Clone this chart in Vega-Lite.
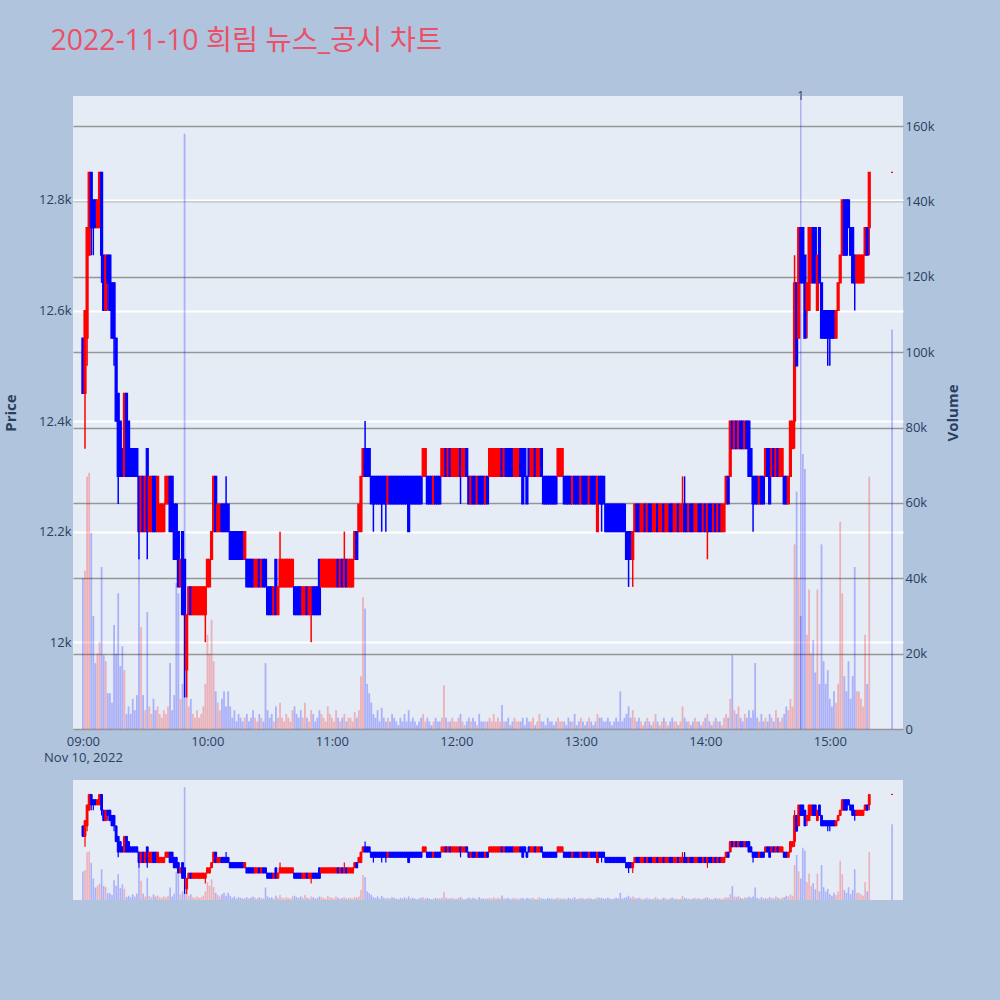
{
"$schema":"https://vega.github.io/schema/vega-lite/v6.json",
"background":"#B0C4DE",
"padding":{"left":3,"top":26,"right":39,"bottom":130},
"title":{"text":"2022-11-10 희림 뉴스_공시 차트","anchor":"start","fontSize":28.4,"fontWeight":"normal","color":"#EB5068","font":"Open Sans, Noto Sans CJK KR","offset":34,"dx":47},
"config":{"view":{"fill":"#E5ECF6","stroke":null},"axis":{"labelFont":"Open Sans","titleFont":"Open Sans","labelColor":"#2a3f5f","titleColor":"#2a3f5f","labelFontSize":13,"titleFontSize":15,"titleFontWeight":"bold","domain":false,"ticks":false}},
"spacing":16,
"datasets":{"k":[
{"m":0,"o":12550,"h":12550,"l":12450,"c":12450,"v":40000},
{"m":1,"o":12450,"h":12600,"l":12350,"c":12600,"v":42000},
{"m":2,"o":12550,"h":12750,"l":12500,"c":12750,"v":67000},
{"m":3,"o":12700,"h":12850,"l":12700,"c":12850,"v":68000},
{"m":4,"o":12850,"h":12850,"l":12700,"c":12750,"v":52000},
{"m":5,"o":12800,"h":12800,"l":12700,"c":12750,"v":30000},
{"m":6,"o":12800,"h":12800,"l":12750,"c":12750,"v":17500},
{"m":7,"o":12750,"h":12800,"l":12750,"c":12800,"v":20000},
{"m":8,"o":12750,"h":12850,"l":12750,"c":12850,"v":23000},
{"m":9,"o":12850,"h":12850,"l":12650,"c":12700,"v":43000},
{"m":10,"o":12700,"h":12700,"l":12600,"c":12600,"v":19600},
{"m":11,"o":12600,"h":12700,"l":12600,"c":12700,"v":18000},
{"m":12,"o":12700,"h":12700,"l":12600,"c":12650,"v":9500},
{"m":13,"o":12700,"h":12700,"l":12600,"c":12600,"v":9500},
{"m":14,"o":12650,"h":12650,"l":12550,"c":12550,"v":7000},
{"m":15,"o":12650,"h":12650,"l":12500,"c":12550,"v":27600},
{"m":16,"o":12550,"h":12550,"l":12400,"c":12400,"v":20000},
{"m":17,"o":12450,"h":12450,"l":12250,"c":12300,"v":36000},
{"m":18,"o":12400,"h":12400,"l":12300,"c":12300,"v":16700},
{"m":19,"o":12350,"h":12350,"l":12300,"c":12300,"v":22000},
{"m":20,"o":12300,"h":12450,"l":12300,"c":12450,"v":15600},
{"m":21,"o":12450,"h":12450,"l":12300,"c":12300,"v":4000},
{"m":22,"o":12400,"h":12400,"l":12300,"c":12300,"v":6000},
{"m":23,"o":12350,"h":12350,"l":12300,"c":12300,"v":4000},
{"m":24,"o":12350,"h":12350,"l":12300,"c":12300,"v":8000},
{"m":25,"o":12350,"h":12350,"l":12300,"c":12300,"v":5000},
{"m":26,"o":12350,"h":12350,"l":12300,"c":12300,"v":9000},
{"m":27,"o":12300,"h":12300,"l":12150,"c":12200,"v":45600},
{"m":28,"o":12200,"h":12300,"l":12200,"c":12300,"v":27000},
{"m":29,"o":12300,"h":12300,"l":12200,"c":12200,"v":9000},
{"m":30,"o":12200,"h":12300,"l":12200,"c":12300,"v":5000},
{"m":31,"o":12350,"h":12350,"l":12150,"c":12200,"v":31000},
{"m":32,"o":12200,"h":12300,"l":12200,"c":12300,"v":6000},
{"m":33,"o":12200,"h":12300,"l":12200,"c":12300,"v":4000},
{"m":34,"o":12300,"h":12300,"l":12200,"c":12200,"v":8000},
{"m":35,"o":12300,"h":12300,"l":12200,"c":12200,"v":5000},
{"m":36,"o":12200,"h":12300,"l":12200,"c":12300,"v":6000},
{"m":37,"o":12200,"h":12250,"l":12200,"c":12250,"v":4000},
{"m":38,"o":12200,"h":12250,"l":12200,"c":12250,"v":3000},
{"m":39,"o":12200,"h":12250,"l":12200,"c":12250,"v":5000},
{"m":40,"o":12250,"h":12300,"l":12250,"c":12300,"v":4000},
{"m":41,"o":12250,"h":12300,"l":12250,"c":12300,"v":6000},
{"m":42,"o":12300,"h":12300,"l":12200,"c":12200,"v":17500},
{"m":43,"o":12300,"h":12300,"l":12200,"c":12200,"v":5000},
{"m":44,"o":12250,"h":12250,"l":12150,"c":12150,"v":9000},
{"m":45,"o":12250,"h":12250,"l":12150,"c":12150,"v":38700},
{"m":46,"o":12200,"h":12200,"l":12100,"c":12100,"v":36000},
{"m":47,"o":12100,"h":12150,"l":12100,"c":12150,"v":8000},
{"m":48,"o":12200,"h":12200,"l":12050,"c":12050,"v":12000},
{"m":49,"o":12150,"h":12150,"l":11900,"c":12050,"v":158000},
{"m":50,"o":11950,"h":12050,"l":11900,"c":12050,"v":15600},
{"m":51,"o":12050,"h":12100,"l":12050,"c":12100,"v":6000},
{"m":52,"o":12100,"h":12100,"l":12050,"c":12050,"v":8000},
{"m":53,"o":12050,"h":12100,"l":12050,"c":12100,"v":4000},
{"m":54,"o":12050,"h":12100,"l":12050,"c":12100,"v":3000},
{"m":55,"o":12050,"h":12100,"l":12050,"c":12100,"v":5000},
{"m":56,"o":12050,"h":12100,"l":12050,"c":12100,"v":3000},
{"m":57,"o":12050,"h":12100,"l":12050,"c":12100,"v":4000},
{"m":58,"o":12050,"h":12100,"l":12050,"c":12100,"v":6000},
{"m":59,"o":12050,"h":12100,"l":12000,"c":12100,"v":12000},
{"m":60,"o":12100,"h":12150,"l":12100,"c":12150,"v":25000},
{"m":61,"o":12100,"h":12150,"l":12100,"c":12150,"v":20000},
{"m":62,"o":12150,"h":12200,"l":12150,"c":12200,"v":29000},
{"m":63,"o":12200,"h":12300,"l":12200,"c":12300,"v":18000},
{"m":64,"o":12300,"h":12300,"l":12200,"c":12200,"v":10000},
{"m":65,"o":12200,"h":12250,"l":12200,"c":12250,"v":7000},
{"m":66,"o":12200,"h":12250,"l":12200,"c":12250,"v":5000},
{"m":67,"o":12250,"h":12250,"l":12200,"c":12200,"v":8000},
{"m":68,"o":12250,"h":12250,"l":12200,"c":12200,"v":10000},
{"m":69,"o":12250,"h":12300,"l":12200,"c":12200,"v":6000},
{"m":70,"o":12250,"h":12250,"l":12200,"c":12200,"v":10000},
{"m":71,"o":12200,"h":12200,"l":12150,"c":12150,"v":6000},
{"m":72,"o":12200,"h":12200,"l":12150,"c":12150,"v":3000},
{"m":73,"o":12200,"h":12200,"l":12150,"c":12150,"v":5000},
{"m":74,"o":12200,"h":12200,"l":12150,"c":12150,"v":2000},
{"m":75,"o":12200,"h":12200,"l":12150,"c":12150,"v":4000},
{"m":76,"o":12200,"h":12200,"l":12150,"c":12150,"v":3000},
{"m":77,"o":12200,"h":12200,"l":12150,"c":12150,"v":2000},
{"m":78,"o":12150,"h":12200,"l":12150,"c":12200,"v":3000},
{"m":79,"o":12150,"h":12150,"l":12100,"c":12100,"v":4000},
{"m":80,"o":12150,"h":12150,"l":12100,"c":12100,"v":2000},
{"m":81,"o":12150,"h":12150,"l":12100,"c":12100,"v":3000},
{"m":82,"o":12150,"h":12150,"l":12100,"c":12100,"v":5000},
{"m":83,"o":12100,"h":12150,"l":12100,"c":12150,"v":3000},
{"m":84,"o":12100,"h":12150,"l":12100,"c":12150,"v":2000},
{"m":85,"o":12150,"h":12150,"l":12100,"c":12100,"v":4000},
{"m":86,"o":12100,"h":12150,"l":12100,"c":12150,"v":3000},
{"m":87,"o":12150,"h":12150,"l":12100,"c":12100,"v":2000},
{"m":88,"o":12150,"h":12150,"l":12100,"c":12100,"v":17500},
{"m":89,"o":12100,"h":12100,"l":12050,"c":12050,"v":5000},
{"m":90,"o":12100,"h":12100,"l":12050,"c":12050,"v":3000},
{"m":91,"o":12100,"h":12100,"l":12050,"c":12050,"v":4000},
{"m":92,"o":12050,"h":12100,"l":12050,"c":12100,"v":2000},
{"m":93,"o":12150,"h":12150,"l":12050,"c":12050,"v":6000},
{"m":94,"o":12050,"h":12100,"l":12050,"c":12100,"v":3000},
{"m":95,"o":12100,"h":12200,"l":12100,"c":12150,"v":7000},
{"m":96,"o":12100,"h":12150,"l":12100,"c":12150,"v":3000},
{"m":97,"o":12100,"h":12150,"l":12100,"c":12150,"v":2000},
{"m":98,"o":12100,"h":12150,"l":12100,"c":12150,"v":4000},
{"m":99,"o":12100,"h":12150,"l":12100,"c":12150,"v":3000},
{"m":100,"o":12100,"h":12150,"l":12100,"c":12150,"v":2000},
{"m":101,"o":12100,"h":12150,"l":12100,"c":12150,"v":5000},
{"m":102,"o":12100,"h":12100,"l":12050,"c":12050,"v":6000},
{"m":103,"o":12100,"h":12100,"l":12050,"c":12050,"v":4000},
{"m":104,"o":12100,"h":12100,"l":12050,"c":12050,"v":3000},
{"m":105,"o":12100,"h":12100,"l":12050,"c":12050,"v":5000},
{"m":106,"o":12050,"h":12100,"l":12050,"c":12100,"v":3000},
{"m":107,"o":12050,"h":12100,"l":12050,"c":12100,"v":7000},
{"m":108,"o":12100,"h":12100,"l":12050,"c":12050,"v":3000},
{"m":109,"o":12050,"h":12100,"l":12050,"c":12100,"v":2000},
{"m":110,"o":12050,"h":12100,"l":12000,"c":12100,"v":5000},
{"m":111,"o":12100,"h":12100,"l":12050,"c":12050,"v":4000},
{"m":112,"o":12100,"h":12100,"l":12050,"c":12050,"v":2000},
{"m":113,"o":12100,"h":12100,"l":12050,"c":12050,"v":3000},
{"m":114,"o":12150,"h":12150,"l":12050,"c":12050,"v":5000},
{"m":115,"o":12100,"h":12150,"l":12100,"c":12150,"v":4000},
{"m":116,"o":12100,"h":12150,"l":12100,"c":12150,"v":3000},
{"m":117,"o":12100,"h":12150,"l":12100,"c":12150,"v":2000},
{"m":118,"o":12100,"h":12150,"l":12100,"c":12150,"v":6000},
{"m":119,"o":12100,"h":12150,"l":12100,"c":12150,"v":4000},
{"m":120,"o":12100,"h":12150,"l":12100,"c":12150,"v":3000},
{"m":121,"o":12100,"h":12150,"l":12100,"c":12150,"v":2000},
{"m":122,"o":12100,"h":12150,"l":12100,"c":12150,"v":5000},
{"m":123,"o":12150,"h":12150,"l":12100,"c":12100,"v":3000},
{"m":124,"o":12100,"h":12150,"l":12100,"c":12150,"v":2000},
{"m":125,"o":12150,"h":12150,"l":12100,"c":12100,"v":3000},
{"m":126,"o":12100,"h":12200,"l":12100,"c":12150,"v":4000},
{"m":127,"o":12150,"h":12150,"l":12100,"c":12100,"v":2000},
{"m":128,"o":12100,"h":12150,"l":12100,"c":12150,"v":3000},
{"m":129,"o":12100,"h":12150,"l":12100,"c":12150,"v":3000},
{"m":130,"o":12100,"h":12150,"l":12100,"c":12150,"v":2000},
{"m":131,"o":12150,"h":12200,"l":12150,"c":12200,"v":4500},
{"m":132,"o":12200,"h":12200,"l":12150,"c":12150,"v":3000},
{"m":133,"o":12200,"h":12250,"l":12200,"c":12250,"v":5000},
{"m":134,"o":12200,"h":12300,"l":12200,"c":12300,"v":14000},
{"m":135,"o":12300,"h":12350,"l":12300,"c":12350,"v":35000},
{"m":136,"o":12350,"h":12400,"l":12300,"c":12300,"v":32000},
{"m":137,"o":12350,"h":12350,"l":12300,"c":12300,"v":12000},
{"m":138,"o":12350,"h":12350,"l":12300,"c":12300,"v":9500},
{"m":139,"o":12300,"h":12300,"l":12250,"c":12250,"v":7000},
{"m":140,"o":12300,"h":12300,"l":12200,"c":12250,"v":4000},
{"m":141,"o":12300,"h":12300,"l":12250,"c":12250,"v":3000},
{"m":142,"o":12300,"h":12300,"l":12250,"c":12250,"v":5000},
{"m":143,"o":12300,"h":12300,"l":12250,"c":12250,"v":2000},
{"m":144,"o":12300,"h":12300,"l":12200,"c":12250,"v":5600},
{"m":145,"o":12300,"h":12300,"l":12250,"c":12250,"v":3000},
{"m":146,"o":12300,"h":12300,"l":12200,"c":12250,"v":2000},
{"m":147,"o":12250,"h":12300,"l":12250,"c":12300,"v":3000},
{"m":148,"o":12300,"h":12300,"l":12250,"c":12250,"v":2000},
{"m":149,"o":12300,"h":12300,"l":12250,"c":12250,"v":4000},
{"m":150,"o":12300,"h":12300,"l":12250,"c":12250,"v":3000},
{"m":151,"o":12300,"h":12300,"l":12250,"c":12250,"v":2000},
{"m":152,"o":12300,"h":12300,"l":12250,"c":12250,"v":1000},
{"m":153,"o":12300,"h":12300,"l":12250,"c":12250,"v":3000},
{"m":154,"o":12300,"h":12300,"l":12250,"c":12250,"v":2000},
{"m":155,"o":12300,"h":12300,"l":12250,"c":12250,"v":4000},
{"m":156,"o":12300,"h":12300,"l":12250,"c":12250,"v":2000},
{"m":157,"o":12300,"h":12300,"l":12200,"c":12200,"v":5000},
{"m":158,"o":12300,"h":12300,"l":12250,"c":12250,"v":2000},
{"m":159,"o":12300,"h":12300,"l":12250,"c":12250,"v":3000},
{"m":160,"o":12300,"h":12300,"l":12250,"c":12250,"v":2000},
{"m":161,"o":12300,"h":12300,"l":12250,"c":12250,"v":1000},
{"m":162,"o":12300,"h":12300,"l":12250,"c":12250,"v":2000},
{"m":163,"o":12300,"h":12300,"l":12250,"c":12250,"v":3000},
{"m":164,"o":12300,"h":12350,"l":12300,"c":12350,"v":4000},
{"m":165,"o":12300,"h":12350,"l":12300,"c":12350,"v":2000},
{"m":166,"o":12300,"h":12300,"l":12250,"c":12250,"v":3000},
{"m":167,"o":12300,"h":12300,"l":12250,"c":12250,"v":2000},
{"m":168,"o":12300,"h":12300,"l":12250,"c":12250,"v":1000},
{"m":169,"o":12250,"h":12300,"l":12250,"c":12300,"v":2000},
{"m":170,"o":12300,"h":12300,"l":12250,"c":12250,"v":3000},
{"m":171,"o":12300,"h":12300,"l":12250,"c":12250,"v":2000},
{"m":172,"o":12300,"h":12300,"l":12250,"c":12250,"v":2000},
{"m":173,"o":12300,"h":12350,"l":12300,"c":12350,"v":3000},
{"m":174,"o":12300,"h":12350,"l":12300,"c":12350,"v":11600},
{"m":175,"o":12350,"h":12350,"l":12300,"c":12300,"v":3000},
{"m":176,"o":12300,"h":12350,"l":12300,"c":12350,"v":2000},
{"m":177,"o":12350,"h":12350,"l":12300,"c":12300,"v":2000},
{"m":178,"o":12300,"h":12350,"l":12300,"c":12350,"v":3000},
{"m":179,"o":12300,"h":12350,"l":12300,"c":12350,"v":2000},
{"m":180,"o":12300,"h":12350,"l":12300,"c":12350,"v":2000},
{"m":181,"o":12300,"h":12350,"l":12300,"c":12350,"v":3000},
{"m":182,"o":12350,"h":12350,"l":12250,"c":12300,"v":4000},
{"m":183,"o":12300,"h":12350,"l":12300,"c":12350,"v":2000},
{"m":184,"o":12300,"h":12350,"l":12300,"c":12350,"v":1000},
{"m":185,"o":12350,"h":12350,"l":12300,"c":12300,"v":2000},
{"m":186,"o":12300,"h":12300,"l":12250,"c":12250,"v":3000},
{"m":187,"o":12250,"h":12300,"l":12250,"c":12300,"v":2000},
{"m":188,"o":12300,"h":12300,"l":12250,"c":12250,"v":3000},
{"m":189,"o":12300,"h":12300,"l":12250,"c":12250,"v":2000},
{"m":190,"o":12250,"h":12300,"l":12250,"c":12300,"v":1000},
{"m":191,"o":12300,"h":12300,"l":12250,"c":12250,"v":4000},
{"m":192,"o":12300,"h":12300,"l":12250,"c":12250,"v":2000},
{"m":193,"o":12300,"h":12300,"l":12250,"c":12250,"v":2000},
{"m":194,"o":12250,"h":12300,"l":12250,"c":12300,"v":2000},
{"m":195,"o":12300,"h":12300,"l":12250,"c":12250,"v":2000},
{"m":196,"o":12300,"h":12350,"l":12300,"c":12350,"v":3000},
{"m":197,"o":12300,"h":12350,"l":12300,"c":12350,"v":2000},
{"m":198,"o":12300,"h":12350,"l":12300,"c":12350,"v":4000},
{"m":199,"o":12300,"h":12350,"l":12300,"c":12350,"v":2000},
{"m":200,"o":12300,"h":12350,"l":12300,"c":12350,"v":3000},
{"m":201,"o":12300,"h":12350,"l":12300,"c":12350,"v":2000},
{"m":202,"o":12350,"h":12350,"l":12300,"c":12300,"v":6400},
{"m":203,"o":12300,"h":12350,"l":12300,"c":12350,"v":2000},
{"m":204,"o":12350,"h":12350,"l":12300,"c":12300,"v":2000},
{"m":205,"o":12350,"h":12350,"l":12300,"c":12300,"v":3000},
{"m":206,"o":12350,"h":12350,"l":12300,"c":12300,"v":1000},
{"m":207,"o":12350,"h":12350,"l":12300,"c":12300,"v":2000},
{"m":208,"o":12300,"h":12350,"l":12300,"c":12350,"v":3000},
{"m":209,"o":12300,"h":12350,"l":12300,"c":12350,"v":2000},
{"m":210,"o":12300,"h":12350,"l":12300,"c":12350,"v":2000},
{"m":211,"o":12350,"h":12350,"l":12300,"c":12300,"v":2000},
{"m":212,"o":12350,"h":12350,"l":12250,"c":12250,"v":3000},
{"m":213,"o":12350,"h":12350,"l":12300,"c":12300,"v":1000},
{"m":214,"o":12300,"h":12300,"l":12250,"c":12250,"v":3000},
{"m":215,"o":12350,"h":12350,"l":12300,"c":12300,"v":2000},
{"m":216,"o":12300,"h":12350,"l":12300,"c":12350,"v":2000},
{"m":217,"o":12300,"h":12350,"l":12300,"c":12350,"v":3000},
{"m":218,"o":12350,"h":12350,"l":12300,"c":12300,"v":1000},
{"m":219,"o":12300,"h":12350,"l":12300,"c":12350,"v":2000},
{"m":220,"o":12300,"h":12350,"l":12300,"c":12350,"v":4000},
{"m":221,"o":12350,"h":12350,"l":12300,"c":12300,"v":2000},
{"m":222,"o":12300,"h":12300,"l":12250,"c":12250,"v":2000},
{"m":223,"o":12300,"h":12300,"l":12250,"c":12250,"v":1000},
{"m":224,"o":12300,"h":12300,"l":12250,"c":12250,"v":3000},
{"m":225,"o":12300,"h":12300,"l":12250,"c":12250,"v":2000},
{"m":226,"o":12300,"h":12300,"l":12250,"c":12250,"v":2000},
{"m":227,"o":12300,"h":12300,"l":12250,"c":12250,"v":1000},
{"m":228,"o":12300,"h":12300,"l":12250,"c":12250,"v":2000},
{"m":229,"o":12300,"h":12350,"l":12300,"c":12350,"v":3000},
{"m":230,"o":12300,"h":12350,"l":12300,"c":12350,"v":2000},
{"m":231,"o":12300,"h":12350,"l":12300,"c":12350,"v":2000},
{"m":232,"o":12300,"h":12300,"l":12250,"c":12250,"v":2000},
{"m":233,"o":12300,"h":12300,"l":12250,"c":12250,"v":1000},
{"m":234,"o":12300,"h":12300,"l":12250,"c":12250,"v":3000},
{"m":235,"o":12300,"h":12300,"l":12250,"c":12250,"v":2000},
{"m":236,"o":12250,"h":12300,"l":12250,"c":12300,"v":2000},
{"m":237,"o":12300,"h":12300,"l":12250,"c":12250,"v":4000},
{"m":238,"o":12300,"h":12300,"l":12250,"c":12250,"v":1000},
{"m":239,"o":12300,"h":12300,"l":12250,"c":12250,"v":2000},
{"m":240,"o":12250,"h":12300,"l":12250,"c":12300,"v":3000},
{"m":241,"o":12300,"h":12300,"l":12250,"c":12250,"v":2000},
{"m":242,"o":12300,"h":12300,"l":12250,"c":12250,"v":1000},
{"m":243,"o":12300,"h":12300,"l":12250,"c":12250,"v":2000},
{"m":244,"o":12250,"h":12300,"l":12250,"c":12300,"v":3000},
{"m":245,"o":12300,"h":12300,"l":12250,"c":12250,"v":2000},
{"m":246,"o":12300,"h":12300,"l":12250,"c":12250,"v":1000},
{"m":247,"o":12300,"h":12300,"l":12250,"c":12250,"v":2000},
{"m":248,"o":12200,"h":12300,"l":12200,"c":12300,"v":4000},
{"m":249,"o":12300,"h":12300,"l":12250,"c":12250,"v":3000},
{"m":250,"o":12300,"h":12300,"l":12200,"c":12250,"v":3000},
{"m":251,"o":12300,"h":12300,"l":12250,"c":12250,"v":2000},
{"m":252,"o":12250,"h":12250,"l":12200,"c":12200,"v":2000},
{"m":253,"o":12250,"h":12250,"l":12200,"c":12200,"v":3000},
{"m":254,"o":12250,"h":12250,"l":12200,"c":12200,"v":2000},
{"m":255,"o":12250,"h":12250,"l":12200,"c":12200,"v":1000},
{"m":256,"o":12250,"h":12250,"l":12200,"c":12200,"v":2000},
{"m":257,"o":12250,"h":12250,"l":12200,"c":12200,"v":3000},
{"m":258,"o":12250,"h":12250,"l":12200,"c":12200,"v":2000},
{"m":259,"o":12250,"h":12250,"l":12200,"c":12200,"v":10000},
{"m":260,"o":12250,"h":12250,"l":12200,"c":12200,"v":2000},
{"m":261,"o":12250,"h":12250,"l":12200,"c":12200,"v":3000},
{"m":262,"o":12200,"h":12200,"l":12150,"c":12150,"v":4000},
{"m":263,"o":12200,"h":12200,"l":12100,"c":12150,"v":6000},
{"m":264,"o":12200,"h":12200,"l":12150,"c":12150,"v":3000},
{"m":265,"o":12150,"h":12200,"l":12100,"c":12200,"v":5000},
{"m":266,"o":12200,"h":12250,"l":12200,"c":12250,"v":3000},
{"m":267,"o":12250,"h":12250,"l":12200,"c":12200,"v":2000},
{"m":268,"o":12250,"h":12250,"l":12200,"c":12200,"v":3000},
{"m":269,"o":12200,"h":12250,"l":12200,"c":12250,"v":2000},
{"m":270,"o":12200,"h":12250,"l":12200,"c":12250,"v":1000},
{"m":271,"o":12250,"h":12250,"l":12200,"c":12200,"v":2000},
{"m":272,"o":12200,"h":12250,"l":12200,"c":12250,"v":3000},
{"m":273,"o":12250,"h":12250,"l":12200,"c":12200,"v":2000},
{"m":274,"o":12250,"h":12250,"l":12200,"c":12200,"v":1000},
{"m":275,"o":12200,"h":12250,"l":12200,"c":12250,"v":2000},
{"m":276,"o":12200,"h":12250,"l":12200,"c":12250,"v":4000},
{"m":277,"o":12250,"h":12250,"l":12200,"c":12200,"v":2000},
{"m":278,"o":12200,"h":12250,"l":12200,"c":12250,"v":1000},
{"m":279,"o":12200,"h":12250,"l":12200,"c":12250,"v":2000},
{"m":280,"o":12250,"h":12250,"l":12200,"c":12200,"v":3000},
{"m":281,"o":12200,"h":12250,"l":12200,"c":12250,"v":2000},
{"m":282,"o":12200,"h":12250,"l":12200,"c":12250,"v":1000},
{"m":283,"o":12250,"h":12250,"l":12200,"c":12200,"v":2000},
{"m":284,"o":12250,"h":12250,"l":12200,"c":12200,"v":3000},
{"m":285,"o":12200,"h":12250,"l":12200,"c":12250,"v":2000},
{"m":286,"o":12200,"h":12250,"l":12200,"c":12250,"v":2000},
{"m":287,"o":12250,"h":12250,"l":12200,"c":12200,"v":1000},
{"m":288,"o":12200,"h":12250,"l":12200,"c":12250,"v":2000},
{"m":289,"o":12200,"h":12300,"l":12200,"c":12250,"v":6000},
{"m":290,"o":12250,"h":12300,"l":12200,"c":12200,"v":3000},
{"m":291,"o":12250,"h":12250,"l":12200,"c":12200,"v":2000},
{"m":292,"o":12200,"h":12250,"l":12200,"c":12250,"v":2000},
{"m":293,"o":12250,"h":12250,"l":12200,"c":12200,"v":1000},
{"m":294,"o":12250,"h":12250,"l":12200,"c":12200,"v":2000},
{"m":295,"o":12200,"h":12250,"l":12200,"c":12250,"v":3000},
{"m":296,"o":12200,"h":12250,"l":12200,"c":12250,"v":2000},
{"m":297,"o":12250,"h":12250,"l":12200,"c":12200,"v":2000},
{"m":298,"o":12250,"h":12250,"l":12200,"c":12200,"v":1000},
{"m":299,"o":12200,"h":12250,"l":12200,"c":12250,"v":2000},
{"m":300,"o":12250,"h":12250,"l":12200,"c":12200,"v":3000},
{"m":301,"o":12200,"h":12250,"l":12150,"c":12250,"v":4000},
{"m":302,"o":12250,"h":12250,"l":12200,"c":12200,"v":2000},
{"m":303,"o":12250,"h":12250,"l":12200,"c":12200,"v":1000},
{"m":304,"o":12200,"h":12250,"l":12200,"c":12250,"v":2000},
{"m":305,"o":12250,"h":12250,"l":12200,"c":12200,"v":3000},
{"m":306,"o":12200,"h":12250,"l":12200,"c":12250,"v":2000},
{"m":307,"o":12250,"h":12250,"l":12200,"c":12200,"v":2000},
{"m":308,"o":12200,"h":12250,"l":12200,"c":12250,"v":1000},
{"m":309,"o":12200,"h":12250,"l":12200,"c":12250,"v":3000},
{"m":310,"o":12250,"h":12300,"l":12250,"c":12300,"v":4000},
{"m":311,"o":12300,"h":12300,"l":12250,"c":12250,"v":3000},
{"m":312,"o":12300,"h":12400,"l":12300,"c":12400,"v":8000},
{"m":313,"o":12400,"h":12400,"l":12350,"c":12350,"v":19600},
{"m":314,"o":12350,"h":12400,"l":12350,"c":12400,"v":5000},
{"m":315,"o":12400,"h":12400,"l":12350,"c":12350,"v":4000},
{"m":316,"o":12350,"h":12400,"l":12350,"c":12400,"v":6000},
{"m":317,"o":12400,"h":12400,"l":12350,"c":12350,"v":3000},
{"m":318,"o":12400,"h":12400,"l":12350,"c":12350,"v":2000},
{"m":319,"o":12350,"h":12400,"l":12350,"c":12400,"v":4000},
{"m":320,"o":12400,"h":12400,"l":12350,"c":12350,"v":3000},
{"m":321,"o":12400,"h":12400,"l":12300,"c":12300,"v":5000},
{"m":322,"o":12350,"h":12350,"l":12300,"c":12300,"v":3000},
{"m":323,"o":12300,"h":12300,"l":12200,"c":12250,"v":5000},
{"m":324,"o":12300,"h":12300,"l":12250,"c":12250,"v":17500},
{"m":325,"o":12300,"h":12300,"l":12250,"c":12250,"v":3000},
{"m":326,"o":12250,"h":12300,"l":12250,"c":12300,"v":2000},
{"m":327,"o":12300,"h":12300,"l":12250,"c":12250,"v":4000},
{"m":328,"o":12300,"h":12300,"l":12250,"c":12250,"v":2000},
{"m":329,"o":12300,"h":12350,"l":12300,"c":12350,"v":3000},
{"m":330,"o":12350,"h":12350,"l":12300,"c":12300,"v":2000},
{"m":331,"o":12350,"h":12350,"l":12250,"c":12250,"v":4000},
{"m":332,"o":12300,"h":12350,"l":12300,"c":12350,"v":3000},
{"m":333,"o":12350,"h":12350,"l":12300,"c":12300,"v":2000},
{"m":334,"o":12300,"h":12350,"l":12300,"c":12350,"v":5000},
{"m":335,"o":12350,"h":12350,"l":12300,"c":12300,"v":3000},
{"m":336,"o":12300,"h":12350,"l":12300,"c":12350,"v":2000},
{"m":337,"o":12300,"h":12350,"l":12300,"c":12350,"v":3000},
{"m":338,"o":12300,"h":12300,"l":12250,"c":12250,"v":4000},
{"m":339,"o":12300,"h":12300,"l":12250,"c":12250,"v":6000},
{"m":340,"o":12250,"h":12300,"l":12250,"c":12300,"v":5000},
{"m":341,"o":12300,"h":12400,"l":12300,"c":12400,"v":8000},
{"m":342,"o":12350,"h":12400,"l":12350,"c":12400,"v":6000},
{"m":343,"o":12400,"h":12700,"l":12350,"c":12650,"v":49000},
{"m":344,"o":12650,"h":12650,"l":12500,"c":12500,"v":63000},
{"m":345,"o":12550,"h":12750,"l":12550,"c":12750,"v":40000},
{"m":346,"o":12750,"h":12750,"l":12650,"c":12650,"v":30000},
{"m":347,"o":12750,"h":12750,"l":12650,"c":12650,"v":73000},
{"m":348,"o":12700,"h":12700,"l":12550,"c":12550,"v":69000},
{"m":349,"o":12600,"h":12650,"l":12550,"c":12650,"v":25000},
{"m":350,"o":12600,"h":12750,"l":12600,"c":12750,"v":37000},
{"m":351,"o":12650,"h":12750,"l":12650,"c":12750,"v":20000},
{"m":352,"o":12750,"h":12750,"l":12650,"c":12650,"v":23600},
{"m":353,"o":12750,"h":12750,"l":12650,"c":12650,"v":15000},
{"m":354,"o":12600,"h":12700,"l":12600,"c":12700,"v":37000},
{"m":355,"o":12750,"h":12750,"l":12650,"c":12650,"v":12000},
{"m":356,"o":12650,"h":12650,"l":12550,"c":12550,"v":49000},
{"m":357,"o":12600,"h":12600,"l":12550,"c":12550,"v":18000},
{"m":358,"o":12600,"h":12600,"l":12550,"c":12550,"v":12000},
{"m":359,"o":12600,"h":12600,"l":12500,"c":12550,"v":15600},
{"m":360,"o":12600,"h":12600,"l":12500,"c":12550,"v":8000},
{"m":361,"o":12600,"h":12600,"l":12550,"c":12550,"v":6000},
{"m":362,"o":12600,"h":12600,"l":12550,"c":12550,"v":10000},
{"m":363,"o":12550,"h":12600,"l":12550,"c":12600,"v":7000},
{"m":364,"o":12600,"h":12650,"l":12600,"c":12650,"v":12000},
{"m":365,"o":12650,"h":12700,"l":12650,"c":12700,"v":55000},
{"m":366,"o":12700,"h":12800,"l":12700,"c":12800,"v":36000},
{"m":367,"o":12800,"h":12800,"l":12700,"c":12700,"v":14000},
{"m":368,"o":12800,"h":12800,"l":12700,"c":12700,"v":10000},
{"m":369,"o":12800,"h":12800,"l":12750,"c":12750,"v":18000},
{"m":370,"o":12750,"h":12750,"l":12700,"c":12700,"v":8000},
{"m":371,"o":12750,"h":12750,"l":12650,"c":12650,"v":14000},
{"m":372,"o":12700,"h":12700,"l":12600,"c":12650,"v":43000},
{"m":373,"o":12650,"h":12700,"l":12650,"c":12700,"v":10000},
{"m":374,"o":12650,"h":12700,"l":12650,"c":12700,"v":10000},
{"m":375,"o":12650,"h":12700,"l":12650,"c":12700,"v":8000},
{"m":376,"o":12650,"h":12700,"l":12650,"c":12700,"v":6000},
{"m":377,"o":12700,"h":12750,"l":12700,"c":12750,"v":25000},
{"m":378,"o":12750,"h":12750,"l":12700,"c":12700,"v":12000},
{"m":379,"o":12750,"h":12850,"l":12700,"c":12850,"v":67000},
{"m":390,"o":12850,"h":12850,"l":12850,"c":12850,"v":106000}
]},
"vconcat":[
{"width":830,"height":633,
 "resolve":{"scale":{"y":"independent"}},
 "encoding":{
  "x":{"field":"m","type":"quantitative","scale":{"domain":[-2.38,392.86],"nice":false,"zero":false},
   "axis":{"values":[0,60,120,180,240,300,360],"labelExpr":"datum.value == 0 ? ['09:00', 'Nov 10, 2022'] : format(9 + datum.value / 60, '02d') + ':00'","grid":false,"title":null,"labelPadding":6,"labelLineHeight":16,"labelFlush":false}}},
 "layer":[
  {"data":{"name":"k"},"mark":{"type":"bar","size":1.8,"opacity":0.25},
   "encoding":{
    "y":{"field":"v","type":"quantitative","scale":{"domain":[0,168000],"nice":false},
      "axis":{"orient":"right","values":[0,20000,40000,60000,80000,100000,120000,140000,160000],"labelExpr":"datum.value == 0 ? '0' : format(datum.value, '~s')","grid":true,"gridColor":"#969696","gridWidth":1.5,"title":"Volume","titleAngle":270,"labelPadding":2,"titlePadding":26}},
    "color":{"condition":{"test":"datum.c > datum.o","value":"#FF0000"},"value":"#0000FF"}}},
  {"data":{"name":"k"},
   "encoding":{
    "color":{"condition":{"test":"datum.c >= datum.o","value":"#FF0000"},"value":"#0000FF"}},
   "layer":[
    {"mark":{"type":"rule","strokeWidth":1.5},
     "encoding":{"y":{"field":"l","type":"quantitative","scale":{"domain":[11843,12988],"nice":false,"zero":false},
       "axis":{"values":[12000,12200,12400,12600,12800],"format":"~s","grid":true,"gridColor":"#FFFFFF","gridWidth":2,"title":"Price","labelPadding":2,"titlePadding":20}},
      "y2":{"field":"h"}}},
    {"mark":{"type":"bar","size":2,"strokeWidth":1.2},
     "encoding":{"y":{"field":"o","type":"quantitative","scale":{"domain":[11843,12988],"nice":false,"zero":false}},
      "y2":{"field":"c"},
      "stroke":{"condition":{"test":"datum.c >= datum.o","value":"#FF0000"},"value":"#0000FF"}}}
   ]},
  {"data":{"values":[{"m":346,"n":"1"}]},
   "layer":[
    {"mark":{"type":"rule","color":"#0000FF","opacity":0.25,"strokeWidth":1.5},
     "encoding":{}},
    {"mark":{"type":"text","fontSize":12,"color":"#444444","baseline":"middle","font":"Open Sans"},
     "encoding":{
      "y":{"datum":12988,"type":"quantitative","scale":{"domain":[11843,12988],"nice":false,"zero":false},"axis":null},
      "text":{"field":"n"}}}
   ]}
 ]},
{"width":830,"height":120,
 "resolve":{"scale":{"y":"independent"}},
 "encoding":{
  "x":{"field":"m","type":"quantitative","scale":{"domain":[-2.38,392.86],"nice":false,"zero":false},"axis":null}},
 "layer":[
  {"data":{"name":"k"},"mark":{"type":"bar","size":1.6,"opacity":0.25},
   "encoding":{
    "y":{"field":"v","type":"quantitative","scale":{"domain":[0,168000],"nice":false},"axis":null},
    "color":{"condition":{"test":"datum.c > datum.o","value":"#FF0000"},"value":"#0000FF"}}},
  {"data":{"name":"k"},
   "encoding":{
    "color":{"condition":{"test":"datum.c >= datum.o","value":"#FF0000"},"value":"#0000FF"}},
   "layer":[
    {"mark":{"type":"rule","strokeWidth":1.2},
     "encoding":{"y":{"field":"l","type":"quantitative","scale":{"domain":[11843,12988],"nice":false,"zero":false},"axis":null},"y2":{"field":"h"}}},
    {"mark":{"type":"bar","size":1.8,"strokeWidth":1},
     "encoding":{"y":{"field":"o","type":"quantitative","scale":{"domain":[11843,12988],"nice":false,"zero":false},"axis":null},
      "y2":{"field":"c"},
      "stroke":{"condition":{"test":"datum.c >= datum.o","value":"#FF0000"},"value":"#0000FF"}}}
   ]}
 ]}
]
}
